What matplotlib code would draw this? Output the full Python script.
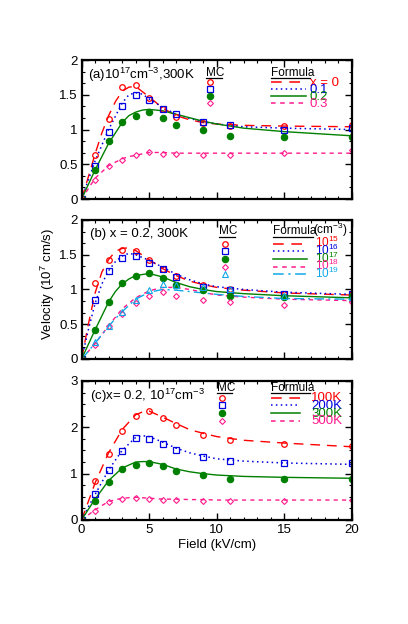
import matplotlib
matplotlib.use("Agg")
import matplotlib.pyplot as plt
from matplotlib.ticker import MultipleLocator, FuncFormatter

plt.rcParams['font.family'] = ['Liberation Sans', 'DejaVu Sans']
plt.rcParams['mathtext.fontset'] = 'custom'
plt.rcParams['mathtext.rm'] = 'Liberation Sans'

# ---------------- data ----------------
x_mc = [0, 1, 2, 3, 4, 5, 6, 7, 9, 11, 15, 20]

# Panel (a): 1e17 cm^-3, 300K, varying x
a_mc_x0 = [0, 0.63, 1.15, 1.61, 1.64, 1.46, 1.30, 1.18, 1.09, 1.05, 1.05, 1.06]
a_mc_x1 = [0, 0.48, 0.97, 1.34, 1.50, 1.42, 1.30, 1.23, 1.11, 1.06, 0.99, 1.02]
a_mc_x2 = [0, 0.42, 0.83, 1.11, 1.20, 1.25, 1.17, 1.06, 0.99, 0.91, 0.89, 0.89]
a_mc_x3 = [0, 0.27, 0.47, 0.56, 0.63, 0.68, 0.65, 0.65, 0.64, 0.63, 0.66, 0.71]

a_fx_x0 = [0, 0.5, 1, 1.5, 2, 2.5, 3, 3.5, 4, 5, 6, 7, 8, 9, 10, 12, 15, 20]
a_f_x0 = [0, 0.32, 0.65, 0.95, 1.2, 1.4, 1.55, 1.61, 1.62, 1.47, 1.31, 1.2, 1.14, 1.1, 1.08, 1.06, 1.05, 1.04]
a_fx = [0, 1, 2, 3, 3.5, 4, 4.5, 5, 6, 7, 8, 9, 10, 12, 15, 20]
a_f_x1 = [0, 0.55, 1.0, 1.38, 1.5, 1.53, 1.51, 1.44, 1.32, 1.22, 1.16, 1.11, 1.08, 1.04, 1.02, 1.0]
a_f_x2 = [0, 0.42, 0.8, 1.1, 1.2, 1.25, 1.28, 1.29, 1.27, 1.22, 1.17, 1.12, 1.08, 1.02, 0.97, 0.91]
a_f_x3 = [0, 0.3, 0.48, 0.58, 0.61, 0.63, 0.65, 0.67, 0.67, 0.66, 0.66, 0.66, 0.66, 0.66, 0.66, 0.66]

# Panel (b): x = 0.2, 300K, varying doping
b_mc_15 = [0, 1.10, 1.42, 1.57, 1.55, 1.42, 1.30, 1.20, 1.07, 1.00, 0.93, 0.93]
b_mc_16 = [0, 0.85, 1.26, 1.45, 1.48, 1.38, 1.30, 1.18, 1.04, 0.99, 0.93, 0.93]
b_mc_17 = [0, 0.41, 0.82, 1.10, 1.20, 1.23, 1.16, 1.07, 0.99, 0.90, 0.89, 0.90]
b_mc_18 = [0, 0.20, 0.47, 0.64, 0.80, 0.90, 0.96, 0.90, 0.85, 0.82, 0.78, 0.82]
b_mc_19 = [0, 0.25, 0.47, 0.68, 0.85, 0.99, 1.08, 1.07, 1.04, 1.00, 0.90, 0.89]

b_fx = [0, 0.5, 1, 1.5, 2, 2.5, 3, 3.5, 4, 5, 6, 7, 8, 9, 10, 12, 15, 20]
b_f_15 = [0, 0.5, 0.95, 1.25, 1.43, 1.55, 1.59, 1.6, 1.56, 1.43, 1.3, 1.2, 1.12, 1.07, 1.03, 0.99, 0.95, 0.92]
b_f_16 = [0, 0.42, 0.8, 1.08, 1.27, 1.4, 1.48, 1.52, 1.5, 1.42, 1.32, 1.22, 1.14, 1.08, 1.04, 1.0, 0.96, 0.93]
b_f_17 = [0, 0.21, 0.42, 0.62, 0.82, 0.97, 1.08, 1.15, 1.2, 1.23, 1.18, 1.1, 1.04, 1.0, 0.97, 0.94, 0.91, 0.88]
b_f_18 = [0, 0.11, 0.22, 0.35, 0.48, 0.6, 0.72, 0.8, 0.88, 0.98, 1.03, 1.03, 1.0, 0.96, 0.92, 0.89, 0.86, 0.84]
b_f_19 = [0, 0.11, 0.23, 0.35, 0.47, 0.58, 0.68, 0.77, 0.86, 0.96, 1.0, 0.99, 0.97, 0.95, 0.93, 0.9, 0.87, 0.86]

# Panel (c): x = 0.2, 1e17 cm^-3, varying temperature
c_mc_100 = [0, 0.85, 1.43, 1.93, 2.24, 2.35, 2.19, 2.05, 1.83, 1.73, 1.63, 1.59]
c_mc_200 = [0, 0.56, 1.07, 1.48, 1.76, 1.74, 1.65, 1.52, 1.35, 1.28, 1.24, 1.24]
c_mc_300 = [0, 0.41, 0.82, 1.09, 1.19, 1.22, 1.17, 1.06, 0.98, 0.89, 0.89, 0.89]
c_mc_500 = [0, 0.20, 0.39, 0.46, 0.48, 0.46, 0.44, 0.44, 0.42, 0.42, 0.42, 0.44]

c_fx = [0, 0.5, 1, 2, 3, 4, 4.5, 5, 6, 7, 8, 9, 10, 12, 15, 20]
c_f_100 = [0, 0.4, 0.8, 1.45, 1.95, 2.27, 2.33, 2.35, 2.22, 2.08, 1.95, 1.87, 1.8, 1.72, 1.66, 1.58]
c_f_200 = [0, 0.28, 0.55, 1.08, 1.5, 1.78, 1.82, 1.8, 1.68, 1.55, 1.45, 1.38, 1.32, 1.27, 1.23, 1.2]
c_f_300 = [0, 0.23, 0.45, 0.85, 1.12, 1.25, 1.26, 1.26, 1.2, 1.1, 1.04, 1.0, 0.97, 0.94, 0.92, 0.9]
c_f_500 = [0, 0.11, 0.22, 0.4, 0.47, 0.49, 0.48, 0.47, 0.45, 0.45, 0.44, 0.44, 0.43, 0.43, 0.43, 0.43]

a_labels = ['x = 0', '0.1', '0.2', '0.3']
b_labels = ['$\\mathregular{10^{15}}$', '$\\mathregular{10^{16}}$', '$\\mathregular{10^{17}}$',
            '$\\mathregular{10^{18}}$', '$\\mathregular{10^{19}}$']
c_labels = ['100K', '200K', '300K', '500K']

# ---------------- styles ----------------
RED = '#ff0000'
BLUE = '#0000e0'
GREEN = '#008000'
PINK = '#ff1a8c'
CYAN = '#10a8e8'

ls_red = (0, (7, 5))
ls_blue = (0, (1, 2.2))
ls_green = '-'
ls_pink = (0, (3, 3))
ls_cyan = (0, (7, 3, 1.5, 3))

mk = {
    'red': dict(marker='o', mfc='none', mec=RED, ms=4, mew=0.9),
    'blue': dict(marker='s', mfc='none', mec=BLUE, ms=4.5, mew=0.9),
    'green': dict(marker='o', mfc=GREEN, mec=GREEN, ms=4.6, mew=0.8),
    'pink': dict(marker='D', mfc='none', mec=PINK, ms=3, mew=0.8),
    'cyan': dict(marker='^', mfc='none', mec=CYAN, ms=4.2, mew=0.8),
}

fig = plt.figure(figsize=(4.08, 6.24), dpi=100)
L, W, H = 0.2, 0.662, 0.2228
axa = fig.add_axes([L, 0.681, W, H])
axb = fig.add_axes([L, 0.4247, W, H])
axc = fig.add_axes([L, 0.1667, W, H])

def fmt(v, pos):
    return '%g' % v

def style(ax, ymax, ymajor, yminor, xlabels):
    ax.set_xlim(0, 20)
    ax.set_ylim(0, ymax)
    ax.xaxis.set_major_locator(MultipleLocator(5))
    ax.xaxis.set_minor_locator(MultipleLocator(1))
    ax.yaxis.set_major_locator(MultipleLocator(ymajor))
    ax.yaxis.set_minor_locator(MultipleLocator(yminor))
    ax.yaxis.set_major_formatter(FuncFormatter(fmt))
    ax.xaxis.set_major_formatter(FuncFormatter(fmt))
    ax.tick_params(which='both', direction='in', top=True, right=True, labelsize=9.5, pad=3)
    ax.tick_params(which='major', length=5, width=1)
    ax.tick_params(which='minor', length=2.5, width=0.8)
    if not xlabels:
        ax.tick_params(axis='x', labelbottom=False)
    for s in ax.spines.values():
        s.set_linewidth(1.6)

def underline(ax, x0, x1, y):
    ax.plot([x0, x1], [y, y], color='black', lw=0.9, transform=ax.transAxes, clip_on=False)

# ----- panel a -----
style(axa, 2, 0.5, 0.5 / 3, False)
axa.plot(a_fx_x0, a_f_x0, color=RED, ls=ls_red, lw=1)
axa.plot(a_fx, a_f_x1, color=BLUE, ls=ls_blue, lw=1.1)
axa.plot(a_fx, a_f_x2, color=GREEN, ls=ls_green, lw=1)
axa.plot(a_fx, a_f_x3, color=PINK, ls=ls_pink, lw=1)
axa.plot(x_mc, a_mc_x0, ls='none', **mk['red'])
axa.plot(x_mc, a_mc_x1, ls='none', **mk['blue'])
axa.plot(x_mc, a_mc_x2, ls='none', **mk['green'])
axa.plot(x_mc, a_mc_x3, ls='none', **mk['pink'])
axa.text(0.025, 0.89, '(a)10$^{\\mathregular{17}}$cm$^{\\mathregular{-3}}$,300K', transform=axa.transAxes,
         fontsize=9.5, va='center', ha='left')
axa.text(0.46, 0.91, 'MC', transform=axa.transAxes, fontsize=8.5, va='center')
underline(axa, 0.46, 0.518, 0.87)
axa.text(0.70, 0.91, 'Formula', transform=axa.transAxes, fontsize=8.5, va='center')
underline(axa, 0.70, 0.845, 0.87)
ya = [0.84, 0.79, 0.74, 0.69]
for y, key, col, ls, lab in zip(ya, ['red', 'blue', 'green', 'pink'], [RED, BLUE, GREEN, PINK],
                                [ls_red, ls_blue, ls_green, ls_pink], a_labels):
    axa.plot([0.475], [y], transform=axa.transAxes, ls='none', clip_on=False, **mk[key])
    axa.plot([0.70, 0.83], [y, y], transform=axa.transAxes, color=col, ls=ls, lw=1.1)
    axa.text(0.845, y - 0.005, lab, transform=axa.transAxes, color=col, fontsize=9.5, va='center')

# ----- panel b -----
style(axb, 2, 0.5, 0.5 / 3, False)
axb.plot(b_fx, b_f_15, color=RED, ls=ls_red, lw=1)
axb.plot(b_fx, b_f_16, color=BLUE, ls=ls_blue, lw=1.1)
axb.plot(b_fx, b_f_17, color=GREEN, ls=ls_green, lw=1)
axb.plot(b_fx, b_f_18, color=PINK, ls=ls_pink, lw=1)
axb.plot(b_fx, b_f_19, color=CYAN, ls=ls_cyan, lw=1)
axb.plot(x_mc, b_mc_15, ls='none', **mk['red'])
axb.plot(x_mc, b_mc_16, ls='none', **mk['blue'])
axb.plot(x_mc, b_mc_17, ls='none', **mk['green'])
axb.plot(x_mc, b_mc_18, ls='none', **mk['pink'])
axb.plot(x_mc, b_mc_19, ls='none', **mk['cyan'])
axb.text(0.03, 0.90, '(b) x = 0.2, 300K', transform=axb.transAxes, fontsize=9.5, va='center')
axb.text(0.51, 0.92, 'MC', transform=axb.transAxes, fontsize=8.5, va='center')
underline(axb, 0.51, 0.568, 0.88)
axb.text(0.71, 0.92, 'Formula', transform=axb.transAxes, fontsize=8.5, va='center')
underline(axb, 0.71, 0.855, 0.88)
axb.text(0.857, 0.925, '(cm$^{\\mathregular{-3}}$)', transform=axb.transAxes, fontsize=8.5, va='center')
yb = [0.83, 0.775, 0.72, 0.665, 0.61]
for y, key, col, ls, lab in zip(yb, ['red', 'blue', 'green', 'pink', 'cyan'],
                                [RED, BLUE, GREEN, PINK, CYAN],
                                [ls_red, ls_blue, ls_green, ls_pink, ls_cyan], b_labels):
    axb.plot([0.53], [y], transform=axb.transAxes, ls='none', clip_on=False, **mk[key])
    axb.plot([0.71, 0.835], [y, y], transform=axb.transAxes, color=col, ls=ls, lw=1.1)
    axb.text(0.865, y + 0.005, lab, transform=axb.transAxes, color=col, fontsize=8.5, va='center')

# ----- panel c -----
style(axc, 3, 1, 0.25, True)
axc.plot(c_fx, c_f_100, color=RED, ls=ls_red, lw=1)
axc.plot(c_fx, c_f_200, color=BLUE, ls=ls_blue, lw=1.1)
axc.plot(c_fx, c_f_300, color=GREEN, ls=ls_green, lw=1)
axc.plot(c_fx, c_f_500, color=PINK, ls=ls_pink, lw=1)
axc.plot(x_mc, c_mc_100, ls='none', **mk['red'])
axc.plot(x_mc, c_mc_200, ls='none', **mk['blue'])
axc.plot(x_mc, c_mc_300, ls='none', **mk['green'])
axc.plot(x_mc, c_mc_500, ls='none', **mk['pink'])
axc.text(0.03, 0.89, '(c)x= 0.2, 10$^{\\mathregular{17}}$cm$^{\\mathregular{-3}}$', transform=axc.transAxes,
         fontsize=9.5, va='center')
axc.text(0.50, 0.95, 'MC', transform=axc.transAxes, fontsize=8.5, va='center')
underline(axc, 0.50, 0.558, 0.91)
axc.text(0.70, 0.95, 'Formula', transform=axc.transAxes, fontsize=8.5, va='center')
underline(axc, 0.70, 0.845, 0.91)
yc = [0.88, 0.825, 0.77, 0.715]
for y, key, col, ls, lab in zip(yc, ['red', 'blue', 'green', 'pink'], [RED, BLUE, GREEN, PINK],
                                [ls_red, ls_blue, ls_green, ls_pink], c_labels):
    axc.plot([0.52], [y], transform=axc.transAxes, ls='none', clip_on=False, **mk[key])
    axc.plot([0.70, 0.81], [y, y], transform=axc.transAxes, color=col, ls=ls, lw=1.1)
    axc.text(0.85, y - 0.005, lab, transform=axc.transAxes, color=col, fontsize=9.5, va='center')

axc.set_xlabel('Field (kV/cm)', fontsize=9.5, labelpad=2)
fig.text(0.118, 0.545, 'Velocity (10$^{\\mathregular{7}}$ cm/s)', rotation=90, fontsize=9.5,
         ha='center', va='center')

fig.savefig('out.png', dpi=100)
